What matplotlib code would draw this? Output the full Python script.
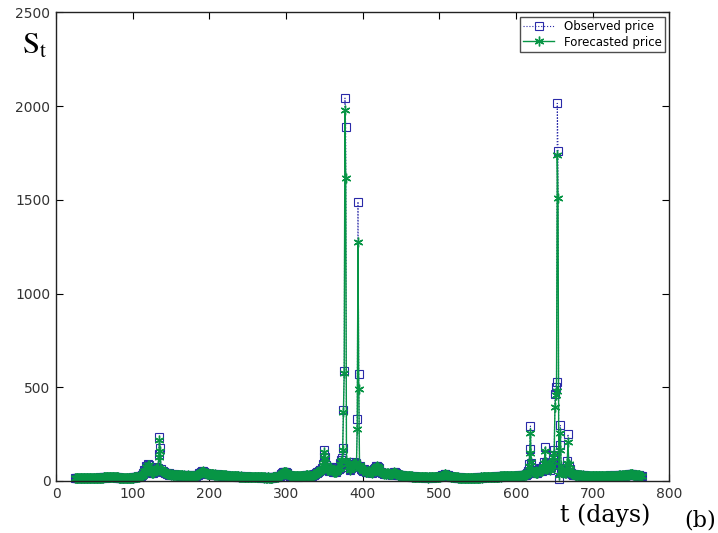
import numpy as np
import matplotlib
matplotlib.use('Agg')
import matplotlib.pyplot as plt

# daily spot price, observed vs. one-step forecast (20 days per row, from day 25)
observed = [
    14, 16, 15, 17, 16, 15, 14, 16, 17, 15, 16, 18, 17, 15, 16, 17, 16, 15, 17, 18,
    17, 16, 15, 16, 18, 17, 16, 15, 17, 16, 18, 17, 19, 18, 17, 18, 19, 20, 19, 18,
    20, 21, 22, 21, 23, 22, 21, 20, 22, 21, 20, 19, 20, 21, 19, 18, 19, 18, 17, 18,
    17, 16, 17, 18, 16, 17, 16, 15, 17, 16, 18, 17, 16, 17, 18, 19, 18, 20, 19, 21,
    20, 22, 24, 23, 26, 28, 25, 30, 36, 45, 58, 52, 64, 78, 72, 90, 84, 66, 55, 48,
    44, 40, 52, 47, 60, 72, 58, 66, 70, 143, 234, 175, 62, 55, 48, 52, 46, 42, 40, 44,
    38, 36, 40, 34, 35, 33, 36, 32, 34, 35, 31, 33, 30, 32, 34, 31, 30, 32, 29, 31,
    30, 28, 31, 29, 30, 27, 29, 31, 28, 27, 30, 29, 28, 26, 29, 30, 28, 27, 31, 33,
    34, 36, 40, 44, 48, 52, 50, 55, 47, 44, 40, 42, 38, 36, 38, 37, 35, 36, 38, 34,
    35, 33, 36, 34, 32, 35, 33, 31, 34, 32, 30, 33, 31, 29, 32, 30, 28, 31, 29, 27,
    28, 26, 27, 25, 28, 26, 24, 27, 25, 26, 24, 23, 25, 24, 22, 24, 23, 25, 22, 21,
    23, 22, 21, 24, 22, 20, 23, 21, 22, 20, 21, 23, 20, 19, 21, 22, 20, 19, 21, 20,
    19, 21, 20, 18, 20, 19, 21, 18, 19, 17, 18, 20, 19, 17, 18, 19, 17, 18, 20, 22,
    21, 23, 22, 24, 23, 25, 24, 28, 30, 36, 42, 46, 48, 50, 47, 49, 45, 40, 34, 30,
    28, 26, 27, 25, 26, 24, 25, 27, 24, 26, 25, 23, 26, 24, 25, 27, 26, 28, 25, 27,
    29, 34, 32, 30, 28, 31, 29, 27, 30, 28, 32, 34, 38, 36, 40, 44, 48, 46, 52, 58,
    60, 56, 70, 92, 130, 165, 128, 84, 66, 58, 62, 55, 72, 74, 68, 60, 54, 50, 46, 52,
    48, 56, 60, 72, 65, 70, 95, 110, 120, 175, 378, 585, 2043, 1890, 96, 88, 72, 100, 64, 58,
    70, 85, 92, 78, 100, 88, 76, 95, 330, 1491, 569, 80, 72, 66, 60, 58, 52, 62, 55, 48,
    50, 46, 52, 48, 55, 50, 46, 44, 52, 58, 62, 70, 66, 78, 82, 74, 68, 58, 50, 46,
    44, 40, 42, 38, 40, 36, 38, 42, 40, 37, 35, 38, 36, 34, 40, 44, 48, 46, 42, 38,
    36, 34, 32, 30, 33, 31, 29, 30, 28, 27, 29, 26, 28, 27, 25, 26, 24, 25, 23, 24,
    23, 22, 24, 21, 23, 22, 20, 22, 21, 20, 22, 19, 21, 20, 19, 21, 20, 18, 20, 19,
    18, 20, 19, 21, 20, 19, 18, 20, 21, 19, 20, 22, 21, 20, 23, 22, 24, 26, 28, 30,
    32, 34, 36, 35, 34, 32, 30, 27, 25, 24, 22, 23, 21, 22, 20, 21, 19, 20, 18, 19,
    18, 17, 19, 18, 16, 17, 18, 16, 17, 15, 16, 17, 15, 16, 17, 16, 15, 17, 16, 18,
    17, 16, 18, 17, 19, 18, 17, 19, 18, 20, 19, 18, 20, 19, 21, 20, 19, 21, 20, 22,
    21, 20, 22, 21, 23, 22, 21, 23, 22, 24, 23, 22, 24, 23, 25, 24, 23, 25, 24, 26,
    25, 24, 26, 25, 27, 26, 25, 27, 26, 28, 27, 26, 28, 27, 29, 28, 27, 29, 28, 30,
    29, 28, 30, 32, 31, 30, 33, 34, 32, 36, 40, 52, 90, 169, 293, 96, 60, 48, 45, 52,
    48, 44, 40, 46, 52, 58, 62, 69, 58, 52, 64, 80, 103, 183, 96, 70, 62, 74, 88, 90,
    60, 72, 85, 110, 140, 165, 464, 503, 530, 2015, 1760, 12, 192, 299, 70, 54, 48, 52, 46, 40,
    44, 60, 107, 249, 80, 62, 48, 42, 38, 36, 34, 35, 33, 32, 34, 31, 33, 30, 32, 31,
    30, 29, 31, 28, 30, 29, 27, 29, 28, 26, 28, 27, 29, 26, 28, 27, 25, 27, 26, 28,
    27, 26, 28, 25, 27, 26, 28, 27, 25, 26, 28, 27, 29, 28, 26, 27, 29, 28, 30, 29,
    28, 27, 29, 30, 28, 27, 29, 28, 30, 29, 31, 30, 28, 30, 32, 31, 29, 31, 33, 32,
    31, 33, 35, 34, 36, 38, 37, 35, 33, 34, 32, 31, 30, 32, 29, 31, 30, 28, 27, 26,
]

forecast = [
    15, 15, 16, 16, 16, 15, 15, 15, 16, 16, 16, 17, 17, 16, 16, 16, 16, 16, 16, 17,
    17, 17, 16, 16, 17, 17, 16, 16, 16, 16, 17, 17, 18, 18, 18, 18, 18, 19, 19, 19,
    19, 20, 21, 21, 22, 22, 21, 21, 21, 21, 20, 20, 20, 20, 20, 19, 19, 18, 18, 18,
    17, 17, 17, 17, 17, 17, 16, 16, 16, 16, 17, 17, 17, 17, 17, 18, 18, 19, 19, 20,
    20, 21, 22, 23, 24, 26, 26, 28, 33, 40, 52, 52, 60, 72, 72, 84, 84, 70, 58, 50,
    45, 41, 49, 47, 56, 68, 60, 64, 68, 130, 220, 160, 66, 58, 50, 51, 47, 43, 41, 43,
    39, 37, 39, 35, 35, 34, 35, 33, 34, 34, 32, 33, 31, 32, 33, 31, 30, 31, 30, 30,
    30, 29, 30, 29, 29, 28, 29, 30, 28, 28, 29, 29, 28, 27, 28, 29, 28, 27, 30, 32,
    33, 35, 38, 42, 46, 50, 50, 53, 48, 45, 41, 41, 39, 37, 37, 37, 35, 35, 37, 35,
    35, 34, 35, 34, 33, 34, 33, 32, 33, 32, 31, 32, 31, 30, 31, 30, 29, 30, 29, 28,
    28, 27, 27, 26, 27, 26, 25, 26, 25, 25, 24, 24, 24, 24, 23, 23, 23, 24, 22, 22,
    22, 22, 21, 23, 22, 21, 22, 21, 21, 20, 21, 22, 20, 20, 20, 21, 20, 19, 20, 20,
    19, 20, 20, 19, 19, 19, 20, 18, 19, 18, 18, 19, 19, 18, 18, 18, 17, 18, 19, 21,
    21, 22, 22, 23, 23, 24, 24, 27, 29, 34, 40, 44, 47, 49, 47, 48, 45, 41, 35, 31,
    29, 27, 27, 26, 26, 25, 25, 26, 25, 25, 25, 24, 25, 24, 25, 26, 26, 27, 26, 26,
    28, 32, 32, 30, 29, 30, 29, 28, 29, 28, 31, 33, 36, 36, 39, 42, 46, 46, 50, 55,
    58, 56, 66, 86, 118, 152, 122, 86, 68, 60, 60, 56, 68, 72, 68, 61, 55, 51, 47, 50,
    48, 54, 58, 68, 66, 69, 90, 104, 114, 165, 367, 574, 1979, 1617, 110, 90, 75, 94, 66, 60,
    68, 80, 88, 80, 94, 88, 78, 90, 277, 1277, 490, 86, 74, 68, 62, 58, 53, 60, 56, 50,
    50, 47, 51, 48, 53, 50, 47, 45, 50, 55, 60, 67, 66, 75, 79, 74, 68, 60, 52, 47,
    44, 41, 42, 39, 40, 37, 38, 41, 40, 38, 36, 37, 36, 35, 39, 43, 46, 45, 42, 39,
    36, 34, 33, 31, 32, 31, 29, 30, 29, 28, 28, 27, 28, 27, 26, 26, 25, 25, 24, 24,
    23, 22, 23, 22, 22, 22, 21, 21, 21, 20, 21, 20, 21, 20, 19, 20, 20, 19, 19, 19,
    18, 19, 19, 20, 20, 19, 19, 19, 20, 19, 20, 21, 21, 20, 22, 22, 23, 25, 27, 29,
    31, 33, 35, 35, 34, 33, 31, 28, 26, 25, 23, 23, 22, 22, 21, 21, 20, 20, 19, 19,
    18, 18, 18, 18, 17, 17, 17, 17, 17, 16, 16, 16, 16, 16, 16, 16, 16, 16, 16, 17,
    17, 17, 17, 17, 18, 18, 17, 18, 18, 19, 19, 18, 19, 19, 20, 20, 19, 20, 20, 21,
    21, 20, 21, 21, 22, 22, 21, 22, 22, 23, 23, 22, 23, 23, 24, 24, 23, 24, 24, 25,
    25, 24, 25, 25, 26, 26, 25, 26, 26, 27, 27, 26, 27, 27, 28, 28, 27, 28, 28, 29,
    29, 28, 29, 31, 31, 30, 32, 33, 32, 35, 39, 49, 82, 149, 254, 100, 64, 50, 46, 50,
    48, 45, 41, 45, 50, 56, 60, 66, 60, 53, 60, 74, 96, 160, 100, 72, 63, 70, 84, 88,
    60, 70, 82, 104, 130, 150, 397, 460, 480, 1740, 1508, 30, 165, 258, 78, 56, 50, 51, 47, 42,
    45, 58, 96, 210, 90, 64, 50, 44, 39, 37, 35, 35, 34, 33, 33, 32, 32, 31, 31, 31,
    30, 29, 30, 29, 29, 29, 28, 28, 28, 27, 27, 27, 28, 27, 27, 27, 26, 26, 26, 27,
    27, 26, 27, 26, 26, 26, 27, 27, 26, 26, 27, 27, 28, 28, 27, 27, 28, 28, 29, 29,
    28, 27, 28, 29, 28, 27, 28, 28, 29, 29, 30, 30, 29, 29, 31, 31, 30, 30, 32, 32,
    31, 32, 34, 34, 35, 37, 37, 35, 34, 34, 33, 31, 30, 31, 30, 30, 30, 29, 28, 27,
]

days = np.arange(25, 25 + len(observed))

x_ticks = [0, 100, 200, 300, 400, 500, 600, 700, 800]
y_ticks = [0, 500, 1000, 1500, 2000, 2500]

plt.rcParams['mathtext.fontset'] = 'stix'

fig = plt.figure(figsize=(7.18, 5.33), dpi=100)
ax = fig.add_axes([0.078, 0.0976, 0.854, 0.879])

# markers near zero spill a little under the x axis, so no clipping
ax.plot(days, observed, color='#2a2aa8', linestyle=':', linewidth=0.8,
        marker='s', markersize=6, markerfacecolor='none', markeredgewidth=0.8,
        label='Observed price', clip_on=False)
ax.plot(days, forecast, color='#079545', linestyle='-', linewidth=1.0,
        marker=(6, 2, 0), markersize=7, markeredgewidth=1.0,
        label='Forecasted price', clip_on=False)

ax.set_xlim(0, 800)
ax.set_ylim(0, 2500)
ax.set_xticks(x_ticks)
ax.set_yticks(y_ticks)
ax.tick_params(direction='in', length=5, width=0.8, top=True, right=True,
               labelsize=10, labelcolor='#333333', pad=4)
for sp in ax.spines.values():
    sp.set_linewidth(1.0)
    sp.set_color('#222222')
    sp.set_zorder(3)

leg = ax.legend(loc='upper right', fontsize=8.5, frameon=True, fancybox=False,
                edgecolor='#222222', borderpad=0.3, labelspacing=0.2,
                handlelength=2.6, borderaxespad=0.35)
leg.get_frame().set_linewidth(1.0)

fig.text(0.03, 0.915, r'$\mathrm{S_t}$', fontsize=22, ha='left', va='center')
fig.text(0.78, 0.034, 't (days)', fontsize=17, family='serif', ha='left', va='center')
fig.text(0.953, 0.024, '(b)', fontsize=16, family='serif', ha='left', va='center')

fig.savefig('out.png', dpi=100)
